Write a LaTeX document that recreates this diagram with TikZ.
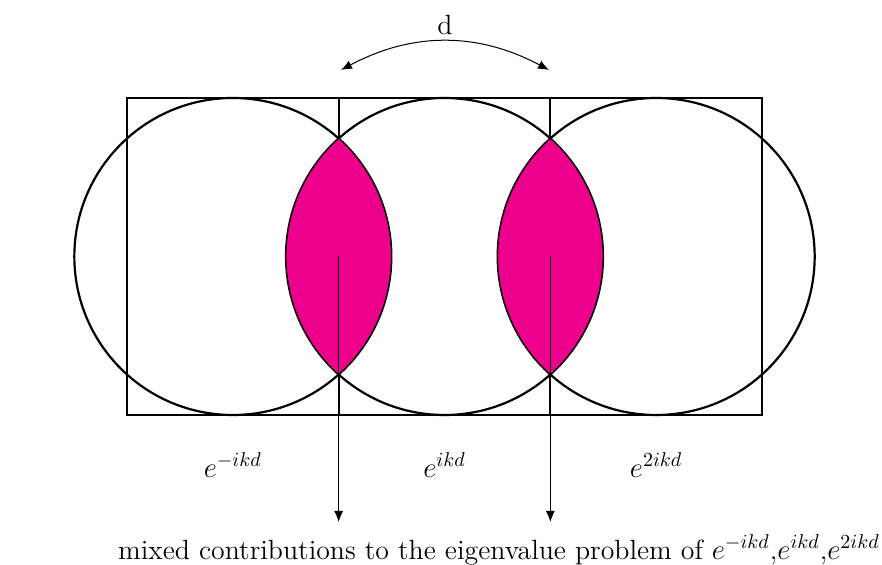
\documentclass[tikz,border=0pt]{standalone}
\usetikzlibrary{arrows.meta}
\definecolor{lensmag}{HTML}{EC008C}
\begin{document}
\begin{tikzpicture}[x=0.5pt,y=0.5pt,
  frame/.style={line width=1.1pt},
  lensfill/.style={fill=lensmag,draw=black,line width=0.4pt},
  pointer/.style={-{Latex[length=5.5pt,width=4.5pt]},line width=0.5pt},
  lbl/.style={font=\fontsize{13.9}{16}\selectfont,inner sep=0pt}]
\useasboundingbox (0,0) rectangle (882,565);
% squares
\draw[frame] (127,150) rectangle (338.67,467);
\draw[frame] (338.67,150) rectangle (550.33,467);
\draw[frame] (550.33,150) rectangle (762,467);
% circles
\coordinate (c1) at (232.83,308.5);
\coordinate (c2) at (444.5,308.5);
\coordinate (c3) at (656.17,308.5);
\draw[frame] (c1) circle[radius=158.5];
\draw[frame] (c2) circle[radius=158.5];
\draw[frame] (c3) circle[radius=158.5];
% lenses
\draw[lensfill] (338.67,426.5) arc[start angle=131.9,end angle=228.1,radius=158.5]
  arc[start angle=-48.1,end angle=48.1,radius=158.5] -- cycle;
\draw[lensfill] (550.33,426.5) arc[start angle=131.9,end angle=228.1,radius=158.5]
  arc[start angle=-48.1,end angle=48.1,radius=158.5] -- cycle;
% arrows
\coordinate (l1) at (338.67,308.5);
\coordinate (l2) at (550.33,308.5);
\coordinate (e1) at (338.67,43);
\coordinate (e2) at (550.33,43);
\draw[pointer] (l1) -- (e1);
\draw[pointer] (l2) -- (e2);
% top arc
\coordinate (a1) at (341,495);
\coordinate (a2) at (549,495);
\draw[{Latex[length=5.5pt,width=4.5pt]}-{Latex[length=5.5pt,width=4.5pt]},line width=0.5pt] (a1) to[bend left=28] (a2);
\node[lbl] (d) at (445,540) {d};
% labels
\node[lbl] (p1) at (232.83,100) {$e^{-ikd}$};
\node[lbl] (p2) at (444.5,100) {$e^{ikd}$};
\node[lbl] (p3) at (656.17,100) {$e^{2ikd}$};
\node[lbl] (cap) at (499,15) {mixed contributions to the eigenvalue problem of $e^{-ikd}$,$e^{ikd}$,$e^{2ikd}$};
\end{tikzpicture}
\end{document}
